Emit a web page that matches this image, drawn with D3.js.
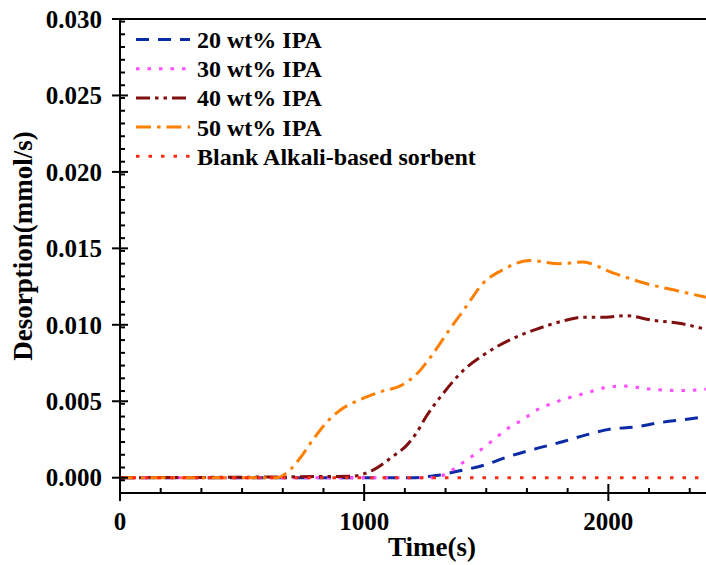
<!DOCTYPE html>
<html>
<head>
<meta charset="utf-8">
<script src="https://cdn.jsdelivr.net/npm/d3@7"></script>
<style>
  body { margin: 0; background: #fff; }
  text { font-family: "Liberation Serif", "Times New Roman", serif; font-weight: bold; }
</style>
</head>
<body>
<div id="chart"></div>
<script>
"use strict";

// data (time in s, desorption in mmol/s)
const t20 = [0, 1200, 1295, 1391, 1486, 1595, 1704, 1800, 1909, 2018, 2100, 2209, 2359, 2400]
const v20 = [0, 0, 0.00015, 0.00045, 0.0008, 0.0014, 0.0019, 0.0023, 0.0028, 0.0032, 0.0033, 0.0036, 0.0039, 0.0040]

const t30 = [0, 1290, 1350, 1405, 1459, 1500, 1554, 1595, 1650, 1704, 1759, 1813, 1922, 1990, 2059, 2168, 2304, 2400]
const v30 = [0, 0, 0.0004, 0.0010, 0.0016, 0.0021, 0.0028, 0.0033, 0.0038, 0.0044, 0.0048, 0.0051, 0.0056, 0.0059, 0.0060, 0.0058, 0.0057, 0.0058]

const t40 = [0, 950, 1036, 1118, 1173, 1213, 1254, 1323, 1405, 1486, 1595, 1704, 1827, 1895, 1990, 2072, 2181, 2290, 2400]
const v40 = [0, 0.0001, 0.0005, 0.0014, 0.0021, 0.0029, 0.0040, 0.0055, 0.0070, 0.0080, 0.0090, 0.0097, 0.0103, 0.0105, 0.0105, 0.0106, 0.0103, 0.0101, 0.0097]

const t50 = [0, 600, 640, 695, 743, 791, 845, 900, 982, 1063, 1159, 1210, 1268, 1350, 1418, 1486, 1568, 1677, 1800, 1895, 2018, 2154, 2290, 2400]
const v50 = [0, 0, 0, 0.0005, 0.0014, 0.0025, 0.0036, 0.0044, 0.0051, 0.0056, 0.0061, 0.0067, 0.0078, 0.0097, 0.0112, 0.0127, 0.0136, 0.0142, 0.0140, 0.0141, 0.0134, 0.0127, 0.0122, 0.0118]

const tBlank = [0, 2400]
const vBlank = [0, 0]

const seriesNames = ['20 wt% IPA', '30 wt% IPA', '40 wt% IPA', '50 wt% IPA', 'Blank Alkali-based sorbent']
const xTicks = [0, 1000, 2000]
const yTicks = [0, 0.005, 0.010, 0.015, 0.020, 0.025, 0.030]

const styles = [
  { color: '#0a2aa6', dash: '13,9' },
  { color: '#ff4dff', dash: '3.5,8' },
  { color: '#800f0f', dash: '14,5,3.5,5,3.5,5' },
  { color: '#ff8000', dash: '15,6,3.5,6' },
  { color: '#ff2a14', dash: '3.5,9' }
]

const series = [[t20, v20], [t30, v30], [t40, v40], [t50, v50], [tBlank, vBlank]]
  .map(([ts, vs], i) => ({
    name: seriesNames[i],
    style: styles[i],
    points: ts.map((t, j) => ({ t, v: vs[j] }))
  }))

const W = 706
    , H = 565
    , plotLeft = 120
    , plotRight = 706
    , plotTop = 19
    , plotBottom = 493

const svg = d3.select('#chart').append('svg')
  .attr('width', W)
  .attr('height', H)

const x = d3.scaleLinear().domain([0, 2400]).range([plotLeft, plotRight])
const y = d3.scaleLinear().domain([-0.001, 0.030]).range([plotBottom, plotTop])

svg.append('clipPath').attr('id', 'plot-clip')
  .append('rect')
  .attr('x', plotLeft).attr('y', plotTop)
  .attr('width', plotRight - plotLeft).attr('height', plotBottom - plotTop)

/*
 * curves
 ***/
const line = d3.line()
  .x(d => x(d.t))
  .y(d => y(d.v))
  .curve(d3.curveMonotoneX)

svg.append('g')
  .attr('clip-path', 'url(#plot-clip)')
  .selectAll('path')
  .data(series)
  .enter()
  .append('path')
  .attr('d', d => line(d.points))
  .attr('fill', 'none')
  .attr('stroke', d => d.style.color)
  .attr('stroke-width', 3)
  .attr('stroke-dasharray', d => d.style.dash)

/*
 * axes: major ticks cross the line, minor ticks point inward
 ***/
const axisG = svg.append('g')
  .attr('stroke', '#000')
  .attr('stroke-width', 2)

axisG.append('line')
  .attr('x1', plotLeft).attr('x2', plotRight)
  .attr('y1', plotTop).attr('y2', plotTop)
axisG.append('line')
  .attr('x1', plotLeft).attr('x2', plotRight)
  .attr('y1', plotBottom).attr('y2', plotBottom)
axisG.append('line')
  .attr('x1', plotLeft).attr('x2', plotLeft)
  .attr('y1', plotTop - 1).attr('y2', plotBottom + 1)

const xMinor = d3.range(0, 2401, 1000 / 6).filter(t => Math.round(t) % 1000 !== 0)
const yMinor = d3.range(-0.001, 0.0301, 0.005 / 6)
  .map(v => Math.round(v * 1e6) / 1e6)
  .filter(v => v > -0.001 && Math.abs(v / 0.005 - Math.round(v / 0.005)) > 1e-6)

axisG.selectAll('line.xmajor').data(xTicks).enter().append('line')
  .attr('x1', d => x(d)).attr('x2', d => x(d))
  .attr('y1', plotBottom - 9).attr('y2', plotBottom + 8)
axisG.selectAll('line.xminor').data(xMinor).enter().append('line')
  .attr('x1', d => x(d)).attr('x2', d => x(d))
  .attr('y1', plotBottom - 5).attr('y2', plotBottom)

axisG.selectAll('line.ymajor').data(yTicks).enter().append('line')
  .attr('y1', d => y(d)).attr('y2', d => y(d))
  .attr('x1', plotLeft - 8).attr('x2', plotLeft + 8)
axisG.selectAll('line.yminor').data(yMinor).enter().append('line')
  .attr('y1', d => y(d)).attr('y2', d => y(d))
  .attr('x1', plotLeft).attr('x2', plotLeft + 5)

const fmtY = d3.format('.3f')

svg.selectAll('text.ytick').data(yTicks).enter().append('text')
  .attr('x', plotLeft - 18)
  .attr('y', d => y(d))
  .attr('dy', '0.35em')
  .attr('text-anchor', 'end')
  .style('font-size', '25px')
  .text(fmtY)

svg.selectAll('text.xtick').data(xTicks).enter().append('text')
  .attr('x', d => x(d))
  .attr('y', 530)
  .attr('text-anchor', 'middle')
  .style('font-size', '25px')
  .text(d => d)

svg.append('text')
  .attr('x', 432)
  .attr('y', 556)
  .attr('text-anchor', 'middle')
  .style('font-size', '27px')
  .text('Time(s)')

svg.append('text')
  .attr('transform', 'translate(32,246) rotate(-90)')
  .attr('text-anchor', 'middle')
  .style('font-size', '27px')
  .text('Desorption(mmol/s)')

/*
 * legend
 ***/
const legend = svg.append('g')
  .selectAll('g')
  .data(series)
  .enter()
  .append('g')
  .attr('transform', (d, i) => `translate(136,${39.5 + i * 29.2})`)

legend.append('line')
  .attr('x1', 0).attr('x2', 54)
  .attr('stroke', d => d.style.color)
  .attr('stroke-width', 3)
  .attr('stroke-dasharray', d => d.style.dash)

legend.append('text')
  .attr('x', 61)
  .attr('dy', '0.35em')
  .style('font-size', '24px')
  .text(d => d.name)
</script>
</body>
</html>
